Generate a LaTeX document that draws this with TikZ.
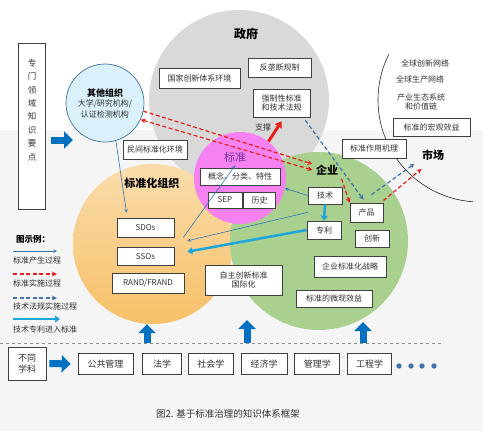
\documentclass[tikz,border=0pt]{standalone}
\usepackage{fontspec}
\setmainfont{Noto Sans CJK SC}
\usepackage{tikz}
\usetikzlibrary{arrows, arrows.meta, positioning}
\definecolor{boxc}{RGB}{64,64,64}
\definecolor{txtc}{RGB}{50,50,50}
\definecolor{govc}{RGB}{217,217,217}
\definecolor{stoc}{RGB}{246,192,104}
\definecolor{entc}{RGB}{169,208,142}
\definecolor{stdc}{RGB}{245,130,240}
\definecolor{othc}{RGB}{218,240,250}
\definecolor{othd}{RGB}{65,113,156}
\definecolor{bluea}{RGB}{46,117,182}
\definecolor{blueb}{RGB}{0,112,192}
\definecolor{bluec}{RGB}{68,114,168}
\definecolor{cyana}{RGB}{30,165,220}
\definecolor{reda}{RGB}{230,30,30}
\definecolor{purpa}{RGB}{112,48,160}
\tikzstyle{box} = [rectangle, 
draw=boxc, 
fill=white, 
line width=0.7pt,
text=txtc, 
inner sep=1pt,
align=center,
font=\fontsize{8}{9.5}\selectfont]
\tikzstyle{disc} = [box, 
minimum height=21pt,
font=\fontsize{9}{11}\selectfont]
\tikzstyle{ring} = [circle, inner sep=0pt]
\tikzstyle{title} = [text=black, 
font=\fontsize{11}{13}\selectfont\bfseries]
\tikzstyle{note} = [text=txtc, 
inner sep=1pt,
font=\fontsize{8}{9.5}\selectfont]
\tikzstyle{coord} = [coordinate]
\tikzstyle{arrow} = [semithick, ->, >=stealth, draw=bluea]
\tikzstyle{redline} = [line width=1.2pt, dash pattern=on 4pt off 2.5pt, ->, >=stealth, draw=reda]
\tikzstyle{blueline} = [line width=1.2pt, dash pattern=on 4pt off 2.5pt, ->, >=stealth, draw=bluec]
\tikzstyle{patent} = [line width=2.5pt, -{Triangle[width=7pt,length=5pt]}, draw=cyana]
\tikzstyle{bigarrow} = [line width=7pt, -{Triangle[width=17pt,length=9pt]}, draw=blueb]

\begin{document}
\begin{tikzpicture} [x=1pt, y=-1pt]
	\useasboundingbox (0,0) rectangle (483,431);
	\fill [black!4] (0,130) rectangle (483,431);
	% circles
	\node (gov) [ring, fill=govc, minimum size=180pt] at (239,100) {};
	\node (sto) [ring, top color=stoc!55!white, bottom color=stoc, minimum size=160pt] at (153,244) {};
	\node (ent) [ring, fill=entc, minimum size=178pt] at (319,241) {};
	\node (std) [ring, fill=stdc, minimum size=92pt] at (240,178) {};
	\node (oth) [ring, fill=othc, draw=othd, line width=0.7pt, minimum size=78pt, align=center, text=txtc, font=\fontsize{8}{10.5}\selectfont] at (105,103) {{\fontsize{9}{11}\selectfont\bfseries\color{black}其他组织}\\大学/研究机构/\\认证检测机构};
	\draw [black!85, semithick] (480,100) ++(207:102) arc [start angle=207, end angle=94, radius=102];
	\draw [black!45, dashed] (0,343) -- (443,343);
	% government
	\node (govt) [title, font=\fontsize{12}{14}\selectfont\bfseries] at (246,34) {政府};
	\node (gov1) [box, minimum width=81pt, minimum height=20pt] at (199.5,78) {国家创新体系环境};
	\node (gov2) [box, minimum width=63pt, minimum height=19pt] at (279.5,67.5) {反垄断规制};
	\node (gov3) [box, minimum width=57pt, minimum height=28pt] at (281.5,103) {强制性标准\\和技术法规};
	% market
	\node (mk1) [note] at (425,63) {全球创新网络};
	\node (mk2) [note] at (420,79) {全球生产网络};
	\node (mk3) [note, align=center] at (421,102) {产业生态系统\\和价值链};
	\node (mk4) [box, minimum width=77pt, minimum height=18pt] at (431.5,127) {标准的宏观效益};
	\node (mkt) [title] at (433,155) {市场};
	% standards organisations
	\node (stot) [title] at (152,183) {标准化组织};
	\node (sto1) [box, minimum width=64pt, minimum height=19pt] at (155,149.5) {民间标准化环境};
	\node (sdo) [box, minimum width=57pt, minimum height=19pt] at (145.5,227.5) {SDOs};
	\node (sso) [box, minimum width=57pt, minimum height=18pt, below=9.5pt of sdo] {SSOs};
	\node (rand) [box, minimum width=72pt, minimum height=20pt, below=7.5pt of sso, xshift=2.5pt] {RAND/FRAND};
	\node (intl) [box, minimum width=77pt, minimum height=30pt] at (243.5,280) {自主创新标准\\国际化};
	% standard
	\node (stdt) [title, text=purpa, font=\fontsize{11}{13}\selectfont] at (235,157) {标准};
	\node (std1) [box, minimum width=80pt, minimum height=17pt] at (240,176.5) {概念、分类、特性};
	\node (sep) [box, minimum width=34pt, minimum height=16pt] at (225,200) {SEP};
	\node (hist) [box, minimum width=32pt, minimum height=16pt, right=1pt of sep] {历史};
	% enterprise
	\node (entt) [title] at (327,170) {企业};
	\node (ent1) [box, minimum width=64pt, minimum height=19pt] at (374,148.5) {标准作用机理};
	\node (tech) [box, minimum width=34pt, minimum height=17pt] at (325,195.5) {技术};
	\node (pat) [box, minimum width=34pt, minimum height=18pt] at (324,230) {专利};
	\node (prod) [box, minimum width=33pt, minimum height=19pt] at (366.5,212.5) {产品};
	\node (inno) [box, minimum width=34pt, minimum height=17pt] at (372,238.5) {创新};
	\node (ent2) [box, minimum width=72pt, minimum height=21pt] at (350,266.5) {企业标准化战略};
	\node (ent3) [box, minimum width=76pt, minimum height=17pt] at (334,298.5) {标准的微观效益};
	% knowledge box and legend
	\node (kbox) [box, minimum width=27pt, minimum height=166pt] at (31.5,126) {};
	\node (ktxt) [note, align=center, font=\fontsize{8.5}{13.4}\selectfont] at (32,110) {专\\门\\领\\域\\知\\识\\要\\点};
	\node (leg) [note, anchor=west, text=black, font=\fontsize{8.5}{10}\selectfont\bfseries] at (15,239) {图示例：};
	\node (leg1) [note, anchor=west] at (12,260) {标准产生过程};
	\node (leg2) [note, anchor=west] at (12,283) {标准实施过程};
	\node (leg3) [note, anchor=west] at (12,306) {技术法规实施过程};
	\node (leg4) [note, anchor=west] at (12,329) {技术专利进入标准};
	\node (l1a) [coord] at (13,251) {};
	\node (l1b) [coord] at (57,251) {};
	\node (l2a) [coord] at (13,274) {};
	\node (l2b) [coord] at (57,274) {};
	\node (l3a) [coord] at (13,298) {};
	\node (l3b) [coord] at (57,298) {};
	\node (l4a) [coord] at (13,319) {};
	\node (l4b) [coord] at (60,319) {};
	% disciplines
	\node (dif) [box, minimum width=38pt, minimum height=33pt, font=\fontsize{9}{11}\selectfont] at (27,363.5) {不同\\学科};
	\node (pub) [disc, minimum width=55pt] at (105.5,364) {公共管理};
	\node (lawd) [disc, minimum width=39pt, right=9pt of pub] {法学};
	\node (soc) [disc, minimum width=45pt, right=6pt of lawd] {社会学};
	\node (eco) [disc, minimum width=46pt, right=7pt of soc] {经济学};
	\node (mgt) [disc, minimum width=45pt, right=7pt of eco] {管理学};
	\node (eng) [disc, minimum width=44pt, right=7pt of mgt] {工程学};
	\fill [bluec] (399,366) circle (2.7) (411,366) circle (2.7) (422,366) circle (2.7) (434,366) circle (2.7);
	\node (cap) [note, font=\fontsize{9.5}{11}\selectfont] at (228,414) {图2. 基于标准治理的知识体系框架};
	\node (k1) [coord] at (73,140) {};
	\node (u1) [coord] at (147,343) {};
	\node (u2) [coord] at (247,343) {};
	\node (u3) [coord] at (363,343) {};
	\node (v2) [coord] at (247,320) {};
	\node (v3) [coord] at (363,322) {};
	% connectors
	\draw [arrow] (oth.-74) -- ([xshift=-19pt, yshift=5pt]sdo.north);
	\draw [arrow] ([xshift=9pt]sdo.south east) -- (stdt.south);
	\draw [arrow] ([yshift=-8pt]tech.south west) -- ([xshift=13pt, yshift=6pt]sso.north east);
	\draw [arrow] (tech.west) -- (std.-13);
	\draw [patent] (tech.south) -- (pat.north);
	\draw [patent] (pat.west) -- ([xshift=13pt, yshift=4.5pt]sso.east);
	\draw [redline] (oth.-12) -- ([yshift=6pt]entt.west);
	\draw [redline, <->] (oth.-25) -- (entt.west);
	\draw [redline] (entt.south east) -- (prod.north west);
	\draw [redline] ([yshift=2pt]prod.north east) -- ([xshift=3pt, yshift=-5pt]mkt.south west);
	\draw [blueline] ([xshift=5pt, yshift=8pt]prod.north) -- ([xshift=-4pt]mkt.south west);
	\draw [blueline] ([xshift=-5pt, yshift=-3pt]gov3.south east) -- ([xshift=-3pt, yshift=3pt]prod.north);
	\draw [line width=3pt, draw=reda, -{Triangle[width=8pt,length=6pt]}] (std.52) -- ([yshift=-4pt]gov3.south) node [note, anchor=east, pos=0.7, xshift=-4pt] {支撑};
	\draw [bigarrow] ([xshift=6pt, yshift=-14pt]kbox.east) -- (k1);
	\draw [bigarrow] ([xshift=3pt]dif.east) -- ([xshift=-7pt]pub.west);
	\draw [bigarrow] (u1) -- ([xshift=-6pt]sto.south);
	\draw [bigarrow] (u2) -- (v2);
	\draw [bigarrow] (u3) -- (v3);
	\draw [arrow] (l1a) -- (l1b);
	\draw [redline] (l2a) -- (l2b);
	\draw [blueline] (l3a) -- (l3b);
	\draw [patent] (l4a) -- (l4b);
\end{tikzpicture}
\end{document}
